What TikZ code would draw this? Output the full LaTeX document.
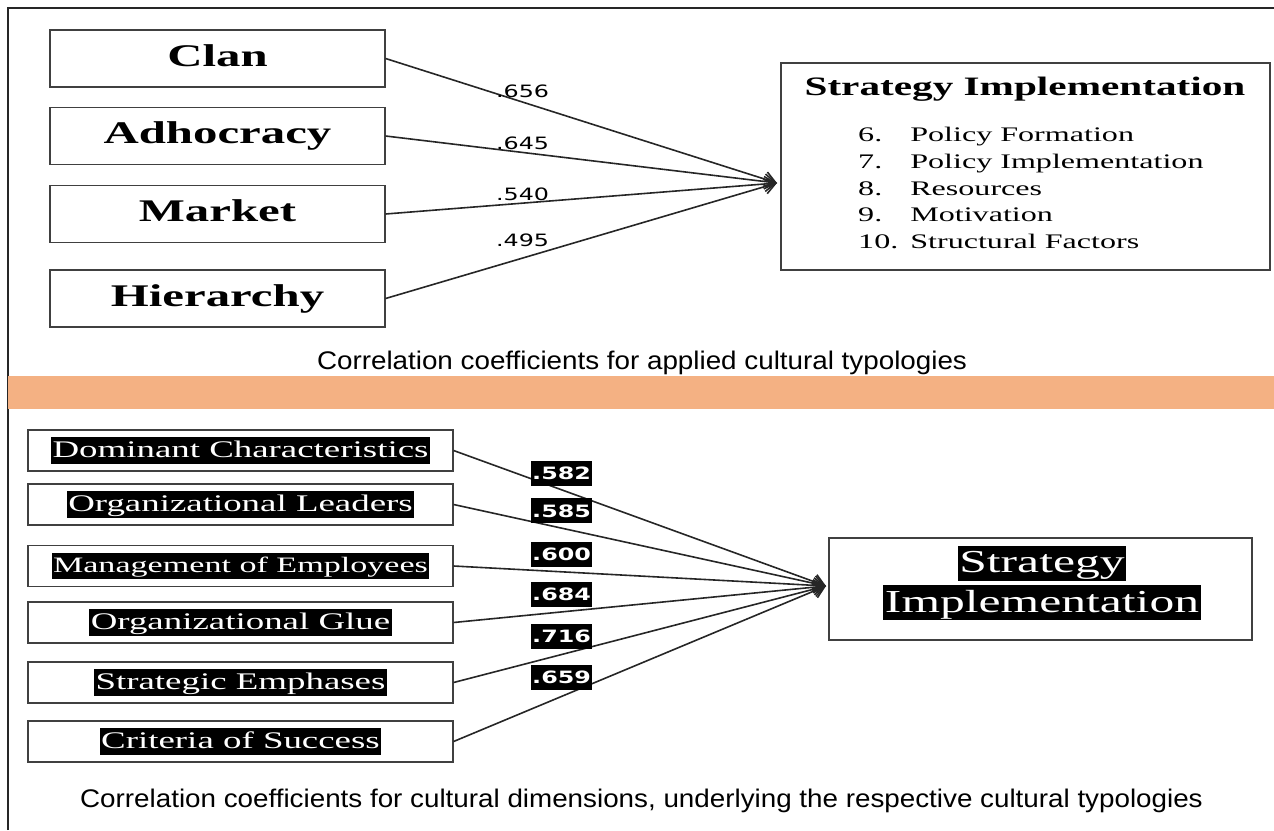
\documentclass[tikz,border=0pt]{standalone}
\usepackage{fontspec}
\usepackage{tikz}
\usetikzlibrary{arrows.meta}
\newfontfamily\boxserif[FakeStretch=1.55]{Liberation Serif}
\newfontfamily\numsans[FakeStretch=1.4]{DejaVu Sans}
\newfontfamily\capsans[FakeStretch=1.09]{Liberation Sans}
\definecolor{bandorange}{HTML}{F4B183}
\newcommand{\hilite}[1]{{\setlength{\fboxsep}{1.5pt}\colorbox{black}{\color{white}\rule[-.2em]{0pt}{1em}#1}}}

\begin{document}
\begin{tikzpicture}[x=1pt,y=-1pt,
  typebox/.style={draw=black!75,line width=1.2pt,minimum width=335pt,minimum height=57pt,
    font=\boxserif\bfseries\fontsize{31.5}{36}\selectfont,text height=21pt,text depth=6pt},
  dimbox/.style={draw=black!75,line width=1.2pt,minimum width=425pt,minimum height=41pt,
    font=\boxserif\fontsize{23.8}{28}\selectfont},
  resbox/.style={draw=black!75,line width=1.2pt},
  conn/.style={draw=black!85,line width=1.6pt,-{Straight Barb[length=11pt,width=15pt]}},
  coef/.style={font=\numsans\fontsize{17}{20}\selectfont,inner sep=2pt},
  coefhl/.style={fill=black,text=white,font=\numsans\bfseries\fontsize{17}{20}\selectfont,
    inner xsep=1pt,inner ysep=6pt},
  figcap/.style={font=\capsans\fontsize{25.5}{30}\selectfont,anchor=base}]
\useasboundingbox (0,0) rectangle (1274,830);
% Frame and the orange band between the two halves
\draw[black!85,line width=1.3pt] (8,830) -- (8,8) -- (1274,8);
\fill[bandorange] (8,376) rectangle (1274,409);

% Upper half: the four cultural typologies
\node[typebox] (clan) at (217.5,58.5) {Clan};
\node[typebox] (adhoc) at (217.5,136) {Adhocracy};
\node[typebox] (market) at (217.5,214) {Market};
\node[typebox] (hier) at (217.5,298.5) {Hierarchy};
% Strategy implementation box with its list
\node[resbox,minimum width=489pt,minimum height=207pt] (si) at (1025.5,166.5) {};
\node[font=\boxserif\bfseries\fontsize{26.6}{32}\selectfont,anchor=base] (sititle) at (1025,95) {Strategy Implementation};
\node[font=\boxserif\fontsize{20.7}{26.7}\selectfont,anchor=north west,inner sep=0pt] (silist) at (858,123)
  {\begin{tabular}{@{}l@{\hspace{12pt}}l@{}}
   6. & Policy Formation\\
   7. & Policy Implementation\\
   8. & Resources\\
   9. & Motivation\\
   10. & Structural Factors
   \end{tabular}};
\coordinate (tipA) at (777,183);
% Arrows with the coefficients
\draw[conn] (clan.east) -- node[coef,pos=.35,above=2pt] {.656} (tipA);
\draw[conn] (adhoc.east) -- node[coef,pos=.35,above] {.645} (tipA);
\draw[conn] (market.east) -- node[coef,pos=.35,above] {.540} (tipA);
\draw[conn] (hier.east) -- node[coef,pos=.35,above=9pt] {.495} (tipA);
\node[figcap] (capA) at (642,369) {Correlation coefficients for applied cultural typologies};

% Lower half: the six cultural dimensions
\node[dimbox] (dom) at (240.5,450.5) {\hilite{Dominant Characteristics}};
\node[dimbox] (lead) at (240.5,504.5) {\hilite{Organizational Leaders}};
\node[dimbox,font=\boxserif\fontsize{22}{26}\selectfont] (mgmt) at (240.5,566) {\hilite{Management of Employees}};
\node[dimbox] (glue) at (240.5,622.5) {\hilite{Organizational Glue}};
\node[dimbox] (emph) at (240.5,682.5) {\hilite{Strategic Emphases}};
\node[dimbox] (succ) at (240.5,741.5) {\hilite{Criteria of Success}};
\node[resbox,minimum width=423pt,minimum height=102pt] (res) at (1040.5,589) {};
\node[align=center,font=\boxserif\fontsize{32}{39.5}\selectfont] (restext) at (1042,583) {\hilite{Strategy}\\\hilite{Implementation}};
\coordinate (tipB) at (826,586);
% Arrows with the highlighted coefficients
\draw[conn] (dom.east) -- node[coefhl,pos=.29,above=3pt] {.582} (tipB);
\draw[conn] (lead.east) -- node[coefhl,pos=.29,above=4pt] {.585} (tipB);
\draw[conn] (mgmt.east) -- node[coefhl,pos=.29,above=4pt] {.600} (tipB);
\draw[conn] (glue.east) -- node[coefhl,pos=.29,above=4pt] {.684} (tipB);
\draw[conn] (emph.east) -- node[coefhl,pos=.29,above=5pt] {.716} (tipB);
\draw[conn] (succ.east) -- node[coefhl,pos=.29,above=6pt] {.659} (tipB);
\node[figcap] (capB) at (641.5,807) {Correlation coefficients for cultural dimensions, underlying the respective cultural typologies};
\end{tikzpicture}
\end{document}
